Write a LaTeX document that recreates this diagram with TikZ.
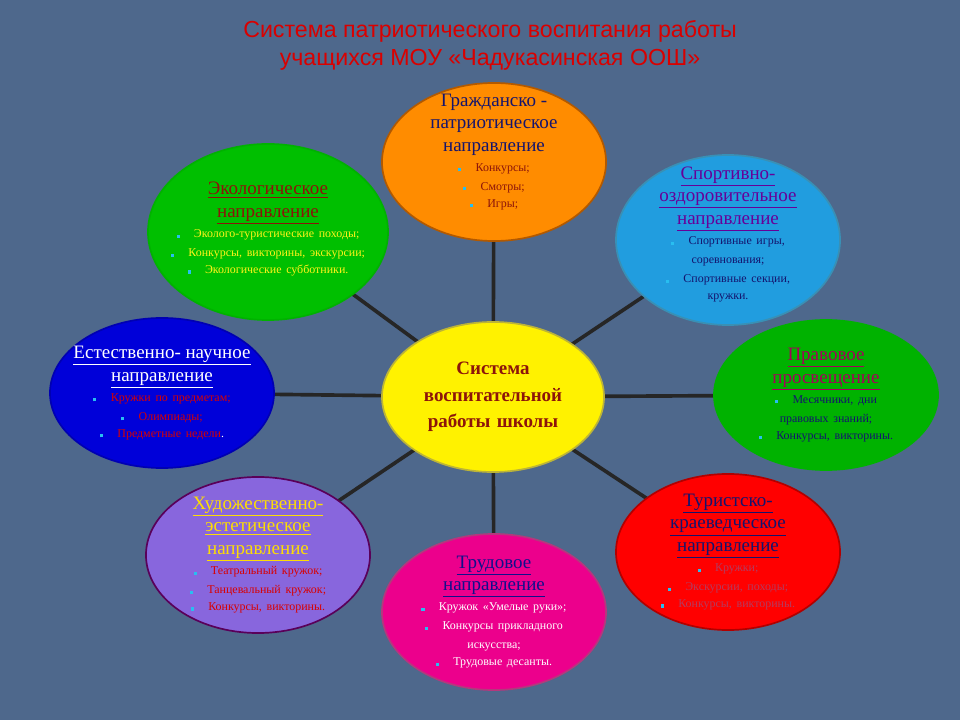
\documentclass[tikz,border=0pt]{standalone}
\usepackage{fontspec}
\setmainfont{Liberation Serif}
\newfontfamily\titlefont{Liberation Sans}
\usetikzlibrary{shapes.geometric}
\definecolor{bgblue}{RGB}{78,104,140}
\definecolor{bulcol}{RGB}{40,190,240}
\definecolor{darkred}{RGB}{140,20,10}
\definecolor{navy}{RGB}{20,20,110}
\newcommand{\bul}{\textcolor{bulcol}{\rule{2.2pt}{2.2pt}}\hspace{1.2em}}
\newcommand{\hd}[1]{\underline{#1}}
\newcommand{\hdfont}{\fontsize{13.5}{16}\selectfont}
\newcommand{\itfont}{\fontsize{8.5}{13.5}\selectfont}
\pgfdeclarelayer{bg}
\pgfdeclarelayer{spokes}
\pgfsetlayers{bg,spokes,main}

\begin{document}
\begin{tikzpicture}
    [
        x=0.025cm, y=-0.025cm,
        dir_node/.style={ellipse, draw=#1!70!black, line width=1.2pt, inner sep=0pt, minimum width=5.6cm, minimum height=3.9cm},
        dir_text/.style={align=center, text width=5.6cm, inner sep=0pt},
        spoke/.style={line width=2.6pt, color=black!85},
    ]
        \begin{pgfonlayer}{bg}
            \fill[bgblue] (0,0) rectangle (960,720) ;
        \end{pgfonlayer}
        \node[align=center, text=red!85!black, font=\titlefont\fontsize{16.5}{20}\selectfont] (title) at (490,45) {Система патриотического воспитания работы\\учащихся МОУ «Чадукасинская ООШ»} ;
        % ellipses
        \node[dir_node=yellow, fill=yellow, minimum width=5.55cm, minimum height=3.75cm] (centre) at (493,397) {} ;
        \node[dir_node=orange, fill=orange!90!yellow, minimum height=3.95cm] (civic) at (494,162) {} ;
        \node[dir_node=green, fill=green!75!black, minimum width=6cm, minimum height=4.4cm] (eco) at (268,232) {} ;
        \node[dir_node=cyan, fill=cyan!80!blue!90!white, minimum height=4.25cm] (sport) at (728,240) {} ;
        \node[dir_node=green, fill=green!70!black, minimum height=3.75cm] (law) at (826,395) {} ;
        \node[dir_node=blue, fill=blue!85!black, minimum height=3.75cm] (science) at (162,393) {} ;
        \node[dir_node=violet, fill=violet!45!blue!60!white] (art) at (258,555) {} ;
        \node[dir_node=magenta, fill=magenta] (labour) at (494,612) {} ;
        \node[dir_node=red, fill=red] (tour) at (728,552) {} ;
        % texts
        \node[dir_text, font=\fontsize{13.5}{19}\selectfont\bfseries, text=darkred] (centre_t) at (centre) {Система\\воспитательной\\работы школы} ;
        \node[dir_text, anchor=north] (civic_t) at ([yshift=-8pt]civic.north) {\hdfont\color{navy}Гражданско -\\патриотическое\\направление\\[1pt]\itfont\color{darkred}\bul Конкурсы;\\\bul Смотры;\\\bul Игры;} ;
        \node[dir_text, text width=6.2cm, yshift=2pt] (eco_t) at (eco) {\hdfont\color{darkred}\hd{Экологическое}\\\hd{направление}\\[1pt]\itfont\color{yellow!90!white}\bul Эколого-туристические походы;\\\bul Конкурсы, викторины, экскурсии;\\\bul Экологические субботники.} ;
        \node[dir_text, yshift=4pt] (sport_t) at (sport) {\hdfont\color{violet!80!blue}\hd{Спортивно-}\\\hd{оздоровительное}\\\hd{направление}\\[1pt]\itfont\color{navy}\bul Спортивные игры,\\соревнования;\\\bul Спортивные секции,\\кружки.} ;
        \node[dir_text] (law_t) at (law) {\hdfont\color{violet!70!red}\hd{Правовое}\\\hd{просвещение}\\[1pt]\itfont\color{navy}\bul Месячники, дни\\правовых знаний;\\\bul Конкурсы, викторины.} ;
        \node[dir_text] (science_t) at (science) {\hdfont\color{white}\hd{Естественно- научное}\\\hd{направление}\\[1pt]\itfont\color{red!85!black}\bul Кружки по предметам;\\\bul Олимпиады;\\\bul Предметные недели\textcolor{white}{.}} ;
        \node[dir_text] (art_t) at (art) {\hdfont\color{yellow!80!orange}\hd{Художественно-}\\\hd{эстетическое}\\\hd{направление}\\[1pt]\itfont\color{red!85!black}\bul Театральный кружок;\\\bul Танцевальный кружок;\\\bul Конкурсы, викторины.} ;
        \node[dir_text] (labour_t) at (labour) {\hdfont\color{navy!80!blue}\hd{Трудовое}\\\hd{направление}\\[1pt]\itfont\color{white}\bul Кружок «Умелые руки»;\\\bul Конкурсы прикладного\\искусства;\\\bul Трудовые десанты.} ;
        \node[dir_text] (tour_t) at (tour) {\hdfont\color{navy}\hd{Туристско-}\\\hd{краеведческое}\\\hd{направление}\\[1pt]\itfont\color{magenta!60!red!70!black}\bul Кружки;\\\bul Экскурсии, походы;\\\bul Конкурсы, викторины.} ;
        % spokes under the ellipses
        \begin{pgfonlayer}{spokes}
            \foreach \dir in {civic, eco, sport, law, science, art, labour, tour}
                \draw[spoke] (centre.center) -- (\dir.center) ;
        \end{pgfonlayer}
        \useasboundingbox (0,0) rectangle (960,720) ;
    \end{tikzpicture}
\end{document}
